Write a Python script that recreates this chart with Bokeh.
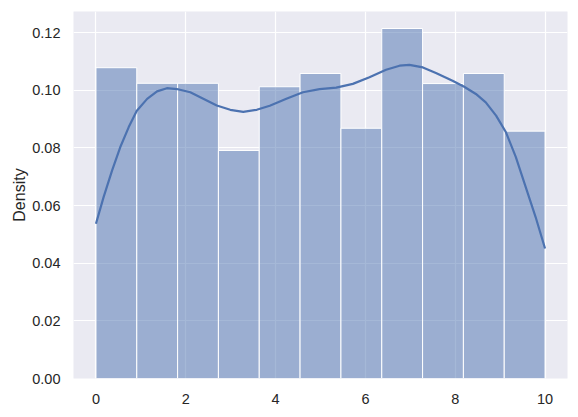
from bokeh.plotting import figure
from bokeh.models import Range1d, FixedTicker, NumeralTickFormatter, ColumnDataSource
from bokeh.embed import file_html
from bokeh.resources import INLINE

# Histogram bins (density)
bin_left = [0.0, 0.909, 1.818, 2.727, 3.636, 4.545, 5.455, 6.364, 7.273, 8.182, 9.091]
bin_right = [0.909, 1.818, 2.727, 3.636, 4.545, 5.455, 6.364, 7.273, 8.182, 9.091, 10.0]
density = [0.1078, 0.1024, 0.1024, 0.0791, 0.1012, 0.1058, 0.0868, 0.1214, 0.1023, 0.1058, 0.0858]

# KDE curve points
kde_x = [0.00, 0.17, 0.36, 0.54, 0.73, 0.91, 1.14, 1.36, 1.58, 1.80, 2.10, 2.39, 2.69, 2.99,
         3.28, 3.58, 3.87, 4.24, 4.61, 4.98, 5.35, 5.72, 6.09, 6.46, 6.76, 6.98, 7.28, 7.57,
         7.94, 8.20, 8.46, 8.68, 8.91, 9.13, 9.35, 9.57, 9.79, 10.0]
kde_y = [0.0537, 0.0629, 0.0722, 0.0802, 0.0872, 0.0929, 0.0970, 0.0996, 0.1007, 0.1004,
         0.0993, 0.0970, 0.0947, 0.0932, 0.0925, 0.0932, 0.0946, 0.0970, 0.0993, 0.1004,
         0.1009, 0.1022, 0.1045, 0.1071, 0.1085, 0.1088, 0.1079, 0.1060, 0.1033, 0.1012,
         0.0987, 0.0958, 0.0912, 0.0854, 0.0768, 0.0664, 0.0560, 0.0451]

x_ticks = [0, 2, 4, 6, 8, 10]
y_ticks = [0.0, 0.02, 0.04, 0.06, 0.08, 0.10, 0.12]

BLUE = "#4C72B0"
FONT = "Liberation Sans"
TXT = "#262626"

p = figure(width=578, height=417, output_backend="svg", toolbar_location=None,
           x_range=Range1d(-0.5, 10.5), y_range=Range1d(0, 0.1273),
           min_border_left=73, min_border_right=11, min_border_top=11, min_border_bottom=39)

p.background_fill_color = "#EAEAF2"
p.border_fill_color = "white"
p.outline_line_color = None

src = ColumnDataSource(dict(left=bin_left, right=bin_right, top=density))
p.quad(left="left", right="right", bottom=0, top="top", source=src,
       fill_color=BLUE, fill_alpha=0.5, line_color="white", line_width=1)
p.line(kde_x, kde_y, line_color=BLUE, line_width=2.2, line_join="round")

p.grid.grid_line_color = "white"
p.grid.grid_line_width = 1.2
p.xaxis.ticker = FixedTicker(ticks=x_ticks)
p.yaxis.ticker = FixedTicker(ticks=y_ticks)
p.yaxis.formatter = NumeralTickFormatter(format="0.00")

for ax in (p.xaxis[0], p.yaxis[0]):
    ax.axis_line_color = None
    ax.major_tick_line_color = None
    ax.minor_tick_line_color = None
    ax.major_tick_out = 0
    ax.major_tick_in = 0
    ax.major_label_text_font = FONT
    ax.major_label_text_font_size = "14.5px"
    ax.major_label_text_color = TXT

p.xaxis.major_label_standoff = 15
p.yaxis.major_label_standoff = 13
p.yaxis.axis_label = "Density"
p.yaxis.axis_label_text_font = FONT
p.yaxis.axis_label_text_font_size = "16px"
p.yaxis.axis_label_text_font_style = "normal"
p.yaxis.axis_label_text_color = TXT
p.yaxis.axis_label_standoff = 1

open("out.html", "w").write(file_html(p, INLINE))
